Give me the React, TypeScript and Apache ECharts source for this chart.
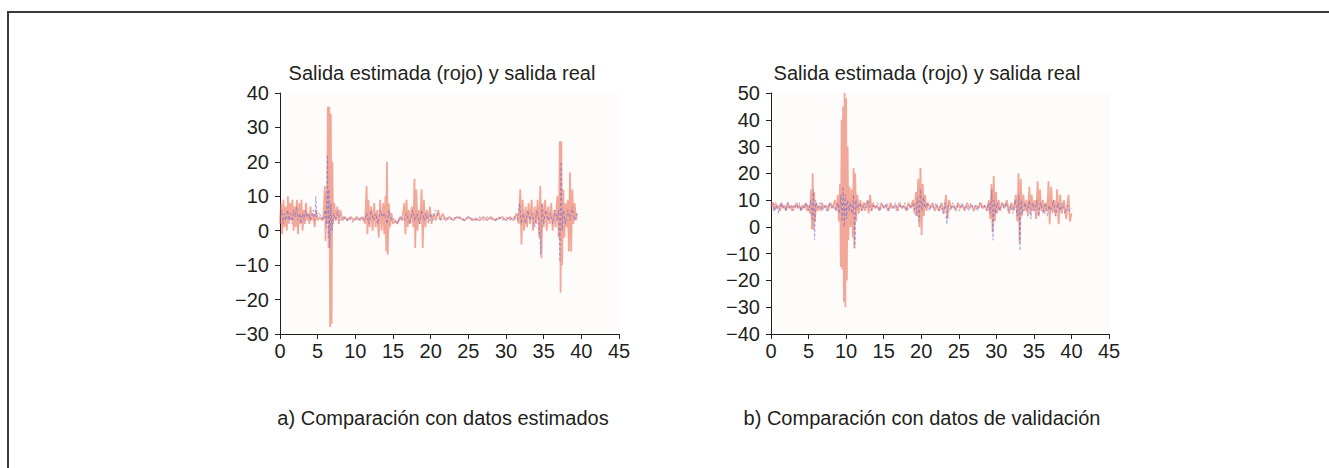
import React, { useEffect, useRef } from "react";
import * as echarts from "echarts";

const panelTitle = "Salida estimada (rojo) y salida real";
const captionA = "a) Comparación con datos estimados";
const captionB = "b) Comparación con datos de validación";

const xTicks = { min: 0, max: 45, interval: 5 };
const leftY = { min: -30, max: 40, interval: 10 };
const rightY = { min: -40, max: 50, interval: 10 };

// Left panel: estimated output (red)
const estLeft: number[][] = [
  [0,2],[0.15,8],[0.3,-1],[0.45,9],[0.6,1],[0.75,7],[0.9,0],[1.05,10],[1.2,2],[1.35,8],[1.5,3],[1.65,9],[1.8,0],[1.95,7],[2.1,1],[2.25,9],[2.4,-1],[2.55,8],[2.7,2],[2.85,9],[3.0,0],[3.15,6],[3.3,2],[3.45,8],[3.6,3],[3.75,5],[3.9,2],[4.05,7],[4.2,3],[4.4,5],[4.6,1],[4.8,6],[5.0,3],[5.3,4],[5.6,3],[5.8,5],[5.95,13],[6.05,-3],[6.15,11],[6.25,2],[6.35,36],[6.45,-5],[6.55,36],[6.65,-28],[6.75,34],[6.85,-27],[6.95,20],[7.05,2],[7.2,8],[7.4,3],[7.6,7],[7.8,2],[8.0,6],[8.3,3],[8.6,4],[9.0,3],[9.4,4],[9.8,3],[10.2,4],[10.6,3],[11.0,4],[11.3,2],[11.5,13],[11.6,-1],[11.75,9],[11.9,1],[12.1,7],[12.3,0],[12.5,8],[12.7,1],[12.9,6],[13.1,-2],[13.3,9],[13.5,0],[13.7,8],[13.85,-1],[14.0,10],[14.1,-6],[14.2,20],[14.3,-7],[14.45,8],[14.6,1],[14.8,5],[15.0,2],[15.3,3],[15.6,2],[15.9,4],[16.2,3],[16.5,8],[16.65,-1],[16.8,9],[16.95,1],[17.1,6],[17.3,2],[17.5,7],[17.7,1],[17.85,15],[17.95,-5],[18.1,12],[18.25,0],[18.4,6],[18.6,2],[18.8,12],[18.95,-5],[19.1,9],[19.3,1],[19.5,6],[19.7,3],[19.9,7],[20.1,2],[20.4,5],[20.7,3],[21.0,6],[21.3,3],[21.6,5],[22.0,3],[22.5,4],[23,3],[23.5,4],[24,3.5],[24.5,3],[25,4],[25.5,3],[26,3.5],[26.5,3],[27,4],[27.5,3],[28,4],[28.5,3],[29,3.5],[29.5,4],[30,3],[30.5,4],[31,3],[31.4,5],[31.7,2],[31.9,12],[32.05,-4],[32.2,9],[32.4,0],[32.6,7],[32.8,1],[33.0,8],[33.2,2],[33.4,9],[33.6,0],[33.8,7],[34.0,2],[34.2,9],[34.4,-2],[34.55,13],[34.7,-8],[34.85,8],[35.0,1],[35.2,9],[35.4,0],[35.6,7],[35.8,2],[36.0,8],[36.2,0],[36.4,6],[36.6,1],[36.8,10],[37.0,-2],[37.15,26],[37.25,-18],[37.35,26],[37.45,-10],[37.6,12],[37.75,-2],[37.9,8],[38.05,1],[38.2,9],[38.35,-6],[38.5,17],[38.65,-6],[38.8,12],[38.95,2],[39.1,8],[39.3,3],[39.4,5]
];

// Left panel: real output (blue)
const realLeft: number[][] = [
  [0,4],[0.2,6],[0.4,2],[0.6,5],[0.8,3],[1.0,6],[1.2,3],[1.4,5],[1.6,2],[1.8,6],[2.0,4],[2.2,7],[2.4,3],[2.6,5],[2.8,2],[3.0,5],[3.2,3],[3.4,6],[3.6,4],[3.8,5],[4.0,3],[4.2,4],[4.4,6],[4.6,3],[4.75,10],[4.9,4],[5.2,5],[5.5,4],[5.8,3],[6.0,6],[6.15,1],[6.3,22],[6.4,-2],[6.5,12],[6.6,-5],[6.75,8],[6.9,0],[7.1,5],[7.4,3],[7.7,6],[8.0,3],[8.4,4],[8.8,3],[9.2,4],[9.6,2.5],[10,3.5],[10.4,3],[10.8,4],[11.2,3],[11.5,5],[11.8,2],[12.1,6],[12.4,3],[12.7,5],[13.0,2],[13.3,6],[13.6,4],[13.9,5],[14.2,2],[14.5,6],[14.8,3],[15.2,3.5],[15.6,2],[16.0,4],[16.4,3],[16.8,5],[17.2,2],[17.6,6],[17.9,3],[18.2,5],[18.5,2],[18.8,6],[19.1,3],[19.4,5],[19.7,2],[20.0,5],[20.3,3],[20.6,6],[21.0,4],[21.5,3],[22,4],[22.5,3],[23,4],[23.5,3.5],[24,4],[24.5,3],[25,4],[25.5,3.5],[26,3],[26.5,4],[27,3],[27.5,4],[28,3.5],[28.5,3],[29,4],[29.5,3],[30,4],[30.5,3],[31,4],[31.5,3],[31.8,8],[32.0,2],[32.3,5],[32.6,2],[32.9,6],[33.2,3],[33.5,5],[33.8,1],[34.1,6],[34.4,3],[34.6,-7],[34.75,8],[35.0,2],[35.3,6],[35.6,3],[35.9,5],[36.2,2],[36.5,6],[36.8,3],[37.0,6],[37.15,-9],[37.3,20],[37.45,0],[37.6,6],[37.9,2],[38.2,6],[38.5,3],[38.8,7],[39.1,3],[39.4,5]
];

// Right panel: estimated output (red)
const estRight: number[][] = [
  [0,8],[0.2,9],[0.4,6],[0.6,9],[0.8,7],[1.0,8],[1.2,6],[1.4,9],[1.6,7],[1.8,8],[2.0,6],[2.2,9],[2.4,7],[2.6,8],[2.8,6],[3.0,8],[3.2,7],[3.4,9],[3.6,7],[3.8,8],[4.0,6],[4.2,8],[4.4,7],[4.6,9],[4.8,6],[5.0,8],[5.2,5],[5.35,14],[5.45,-1],[5.55,20],[5.65,-1],[5.75,13],[5.85,2],[6.0,9],[6.2,6],[6.4,8],[6.6,6],[6.8,9],[7.0,7],[7.3,8],[7.6,6],[7.9,9],[8.2,7],[8.5,10],[8.7,6],[8.9,12],[9.05,2],[9.2,16],[9.3,-15],[9.4,40],[9.5,-16],[9.6,45],[9.7,-28],[9.8,50],[9.9,-30],[10.0,48],[10.1,-20],[10.2,30],[10.3,-5],[10.45,15],[10.6,0],[10.75,14],[10.9,-4],[11.0,22],[11.1,-8],[11.2,20],[11.35,2],[11.5,12],[11.7,5],[11.9,10],[12.1,6],[12.3,9],[12.5,6],[12.8,10],[13.0,5],[13.2,12],[13.4,6],[13.6,9],[13.8,7],[14.1,8],[14.4,6],[14.7,9],[15.0,7],[15.3,8],[15.6,6],[15.9,9],[16.2,7],[16.5,8],[16.8,6],[17.1,9],[17.4,7],[17.7,8],[18.0,6],[18.3,9],[18.6,7],[18.9,10],[19.1,5],[19.3,13],[19.45,4],[19.6,18],[19.75,0],[19.9,22],[20.05,-3],[20.2,16],[20.35,4],[20.5,12],[20.7,6],[20.9,9],[21.2,7],[21.5,9],[21.8,6],[22.1,8],[22.4,6],[22.7,9],[23.0,5],[23.3,12],[23.5,3],[23.7,10],[24.0,7],[24.3,8],[24.6,6],[24.9,9],[25.2,7],[25.5,8],[25.8,6],[26.1,9],[26.4,7],[26.7,8],[27.0,6],[27.3,8],[27.6,7],[27.9,9],[28.2,7],[28.5,8],[28.8,6],[29.0,10],[29.2,3],[29.35,16],[29.5,-2],[29.65,19],[29.8,2],[29.95,13],[30.1,5],[30.3,10],[30.5,6],[30.8,9],[31.1,7],[31.4,10],[31.7,5],[32.0,9],[32.3,6],[32.6,12],[32.8,2],[32.95,20],[33.1,-6],[33.25,18],[33.4,4],[33.6,12],[33.8,6],[34.0,10],[34.2,4],[34.4,15],[34.55,5],[34.7,12],[34.9,6],[35.1,10],[35.3,3],[35.5,17],[35.65,4],[35.8,14],[36.0,6],[36.2,10],[36.4,5],[36.6,9],[36.8,6],[36.95,17],[37.1,1],[37.3,15],[37.5,5],[37.7,10],[37.9,4],[38.1,14],[38.3,1],[38.5,12],[38.7,5],[39.0,10],[39.3,3],[39.6,12],[39.8,2],[40,5]
];

// Right panel: real output (blue)
const realRight: number[][] = [
  [0,7],[0.25,9],[0.5,6],[0.75,8],[1.0,5],[1.25,9],[1.5,7],[1.75,8],[2.0,6],[2.25,9],[2.5,7],[2.75,8],[3.0,6],[3.25,8],[3.5,7],[3.75,9],[4.0,6],[4.25,8],[4.5,7],[4.75,9],[5.0,6],[5.3,10],[5.5,3],[5.65,14],[5.8,-5],[5.95,10],[6.2,7],[6.5,9],[6.8,6],[7.1,8],[7.4,6],[7.7,9],[8.0,7],[8.3,8],[8.6,6],[8.9,9],[9.1,5],[9.3,12],[9.45,2],[9.6,15],[9.75,0],[9.9,12],[10.05,3],[10.2,10],[10.4,6],[10.6,9],[10.8,5],[11.0,12],[11.15,-8],[11.3,10],[11.5,7],[11.8,9],[12.1,6],[12.4,9],[12.7,7],[13.0,10],[13.3,6],[13.6,8],[13.9,7],[14.2,9],[14.5,6],[14.8,8],[15.1,7],[15.4,9],[15.7,6],[16.0,8],[16.3,7],[16.6,9],[16.9,6],[17.2,8],[17.5,7],[17.8,9],[18.1,6],[18.4,8],[18.7,7],[19.0,9],[19.3,4],[19.5,11],[19.7,2],[19.9,14],[20.1,6],[20.3,11],[20.5,7],[20.8,9],[21.1,6],[21.4,8],[21.7,7],[22.0,9],[22.3,6],[22.6,8],[22.9,5],[23.2,9],[23.4,1],[23.6,8],[23.9,6],[24.2,9],[24.5,7],[24.8,8],[25.1,6],[25.4,9],[25.7,7],[26.0,8],[26.3,6],[26.6,9],[26.9,7],[27.2,8],[27.5,6],[27.8,9],[28.1,7],[28.4,8],[28.7,6],[29.0,9],[29.2,5],[29.4,14],[29.55,-5],[29.7,10],[29.9,5],[30.1,9],[30.4,6],[30.7,9],[31.0,7],[31.3,9],[31.6,6],[31.9,8],[32.2,5],[32.5,10],[32.8,4],[33.0,12],[33.15,-9],[33.3,10],[33.5,5],[33.8,9],[34.1,6],[34.4,10],[34.6,3],[34.8,9],[35.1,6],[35.4,10],[35.6,4],[35.9,9],[36.2,5],[36.5,9],[36.8,4],[37.0,8],[37.3,6],[37.6,10],[37.9,4],[38.2,9],[38.5,6],[38.8,9],[39.1,5],[39.4,8],[39.7,6],[40,7]
];

const FONT = "Liberation Sans, Arial, Helvetica, sans-serif";
const TXT = "#231f20";
const RED = "#ea6446";
const BLUE = "#5a5ae0";

const minus = (v: number) => String(v).replace("-", "\u2212");

function xAxisFor(gridIndex: number) {
  return {
    type: "value",
    gridIndex,
    ...xTicks,
    axisLine: { show: true, onZero: false, lineStyle: { color: TXT, width: 1 } },
    axisTick: { show: true, length: 5, lineStyle: { color: TXT } },
    axisLabel: { color: TXT, fontSize: 20, fontFamily: FONT, margin: 7 },
    splitLine: { show: false },
  };
}

function yAxisFor(gridIndex: number, r: { min: number; max: number; interval: number }) {
  return {
    type: "value",
    gridIndex,
    ...r,
    axisLine: { show: true, onZero: false, lineStyle: { color: TXT, width: 1 } },
    axisTick: { show: true, length: 5, lineStyle: { color: TXT } },
    axisLabel: { color: TXT, fontSize: 20, fontFamily: FONT, margin: 11, formatter: minus },
    splitLine: { show: false },
  };
}

function line(data: number[][], idx: number, color: string, width: number, opacity: number, z: number, type: any = "solid") {
  return {
    type: "line",
    xAxisIndex: idx,
    yAxisIndex: idx,
    data,
    showSymbol: false,
    symbol: "none",
    z,
    lineStyle: { color, width, opacity, type },
  };
}

export default function App() {
  const ref = useRef<HTMLDivElement>(null);
  useEffect(() => {
    if (!ref.current) return;
    const chart = echarts.init(ref.current, null, { renderer: "svg" });
    chart.setOption({
      animation: false,
      backgroundColor: "#ffffff",
      grid: [
        { left: 280, top: 93, width: 339, height: 241, show: true, backgroundColor: "#fefbfb", borderWidth: 0 },
        { left: 771, top: 93, width: 338, height: 241, show: true, backgroundColor: "#fefbfb", borderWidth: 0 },
      ],
      xAxis: [xAxisFor(0), xAxisFor(1)],
      yAxis: [yAxisFor(0, leftY), yAxisFor(1, rightY)],
      series: [
        line(estLeft, 0, RED, 1.8, 0.55, 2),
        line(realLeft, 0, BLUE, 1.1, 0.5, 3, [3, 2]),
        line(estRight, 1, RED, 1.8, 0.55, 2),
        line(realRight, 1, BLUE, 1.1, 0.5, 3, [3, 2]),
      ],
      graphic: [
        { type: "line", shape: { x1: 7, y1: 12, x2: 1329, y2: 12 }, style: { stroke: "#3a3a3a", lineWidth: 2 } },
        { type: "line", shape: { x1: 8, y1: 11, x2: 8, y2: 468 }, style: { stroke: "#3a3a3a", lineWidth: 2 } },
        { type: "text", x: 442, y: 73, style: { text: panelTitle, font: `20px ${FONT}`, fill: TXT, textAlign: "center", textVerticalAlign: "middle" } },
        { type: "text", x: 927, y: 73, style: { text: panelTitle, font: `20px ${FONT}`, fill: TXT, textAlign: "center", textVerticalAlign: "middle" } },
        { type: "text", x: 443, y: 418, style: { text: captionA, font: `20px ${FONT}`, fill: TXT, textAlign: "center", textVerticalAlign: "middle" } },
        { type: "text", x: 922, y: 418, style: { text: captionB, font: `20px ${FONT}`, fill: TXT, textAlign: "center", textVerticalAlign: "middle" } },
      ],
    });
    return () => chart.dispose();
  }, []);
  return (
    <div
      ref={ref}
      style={{ position: "fixed", left: 0, top: 0, width: 1329, height: 468, background: "#fff" }}
    />
  );
}
